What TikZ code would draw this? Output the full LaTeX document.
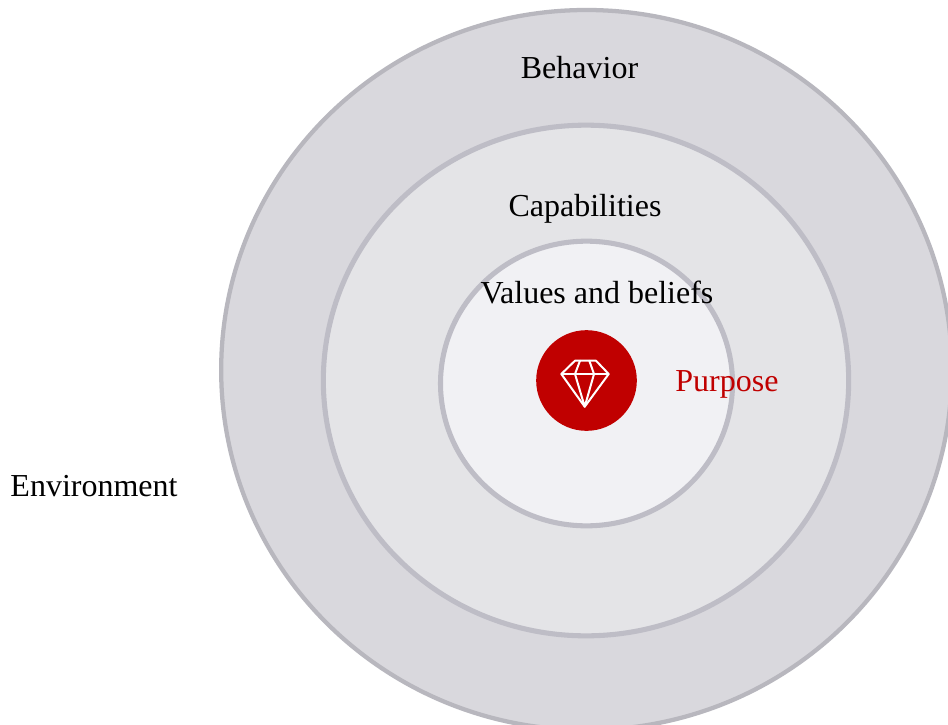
\documentclass[tikz,border=0pt]{standalone}
\usepackage{fontspec}
\setmainfont{Liberation Serif}
\usetikzlibrary{shapes.geometric}
\definecolor{ringA}{HTML}{D9D8DD}
\definecolor{ringB}{HTML}{E4E4E7}
\definecolor{ringC}{HTML}{F1F1F4}
\definecolor{edgeA}{HTML}{B8B7BE}
\definecolor{edgeB}{HTML}{BEBDC6}
\definecolor{purposeRed}{HTML}{C00000}
\tikzset{
  px/.style={x=0.75pt,y=-0.75pt},
  ring/.style={ellipse,inner sep=0pt,outer sep=0pt,line width=3.2pt},
  label/.style={font=\fontsize{24}{28}\selectfont,inner sep=0pt,text=black,anchor=base},
  gemline/.style={draw=white,line width=1.5pt,line join=round,line cap=round}
}
\begin{document}
\begin{tikzpicture}[px]
\useasboundingbox (0,0) rectangle (948,724);
\clip (0,0) rectangle (948,724);
\fill[white] (0,0) rectangle (948,724);
\node[ring,draw=edgeA,fill=ringA,minimum width=548pt,minimum height=540pt] (outer) at (586.5,370) {};
\node[ring,draw=edgeB,fill=ringB,line width=3.8pt,minimum width=394pt,minimum height=383pt] (middle) at (586,380.5) {};
\node[ring,draw=edgeB,fill=ringC,line width=3.8pt,minimum width=219pt,minimum height=213.5pt] (inner) at (586.5,383.5) {};
\node[circle,fill=purposeRed,inner sep=0pt,minimum size=75.5pt] (core) at (586.5,380.5) {};
\draw[gemline] (575,360.7) -- (596,360.7) -- (608.7,374) -- (584.7,406.7) -- (561.3,374) -- cycle;
\draw[gemline] (561.3,374) -- (608.7,374);
\draw[gemline] (580,360.7) -- (575,374) -- (584.7,406.7) -- (594,374) -- (589.3,360.7);
\node[label] (behavior) at (579.5,79) {Behavior};
\node[label] (capabilities) at (585,216) {Capabilities};
\node[label] (values) at (597,303) {Values and beliefs};
\node[label,text=purposeRed] (purpose) at (727,391) {Purpose};
\node[label] (environment) at (94,496) {Environment};
\end{tikzpicture}
\end{document}
